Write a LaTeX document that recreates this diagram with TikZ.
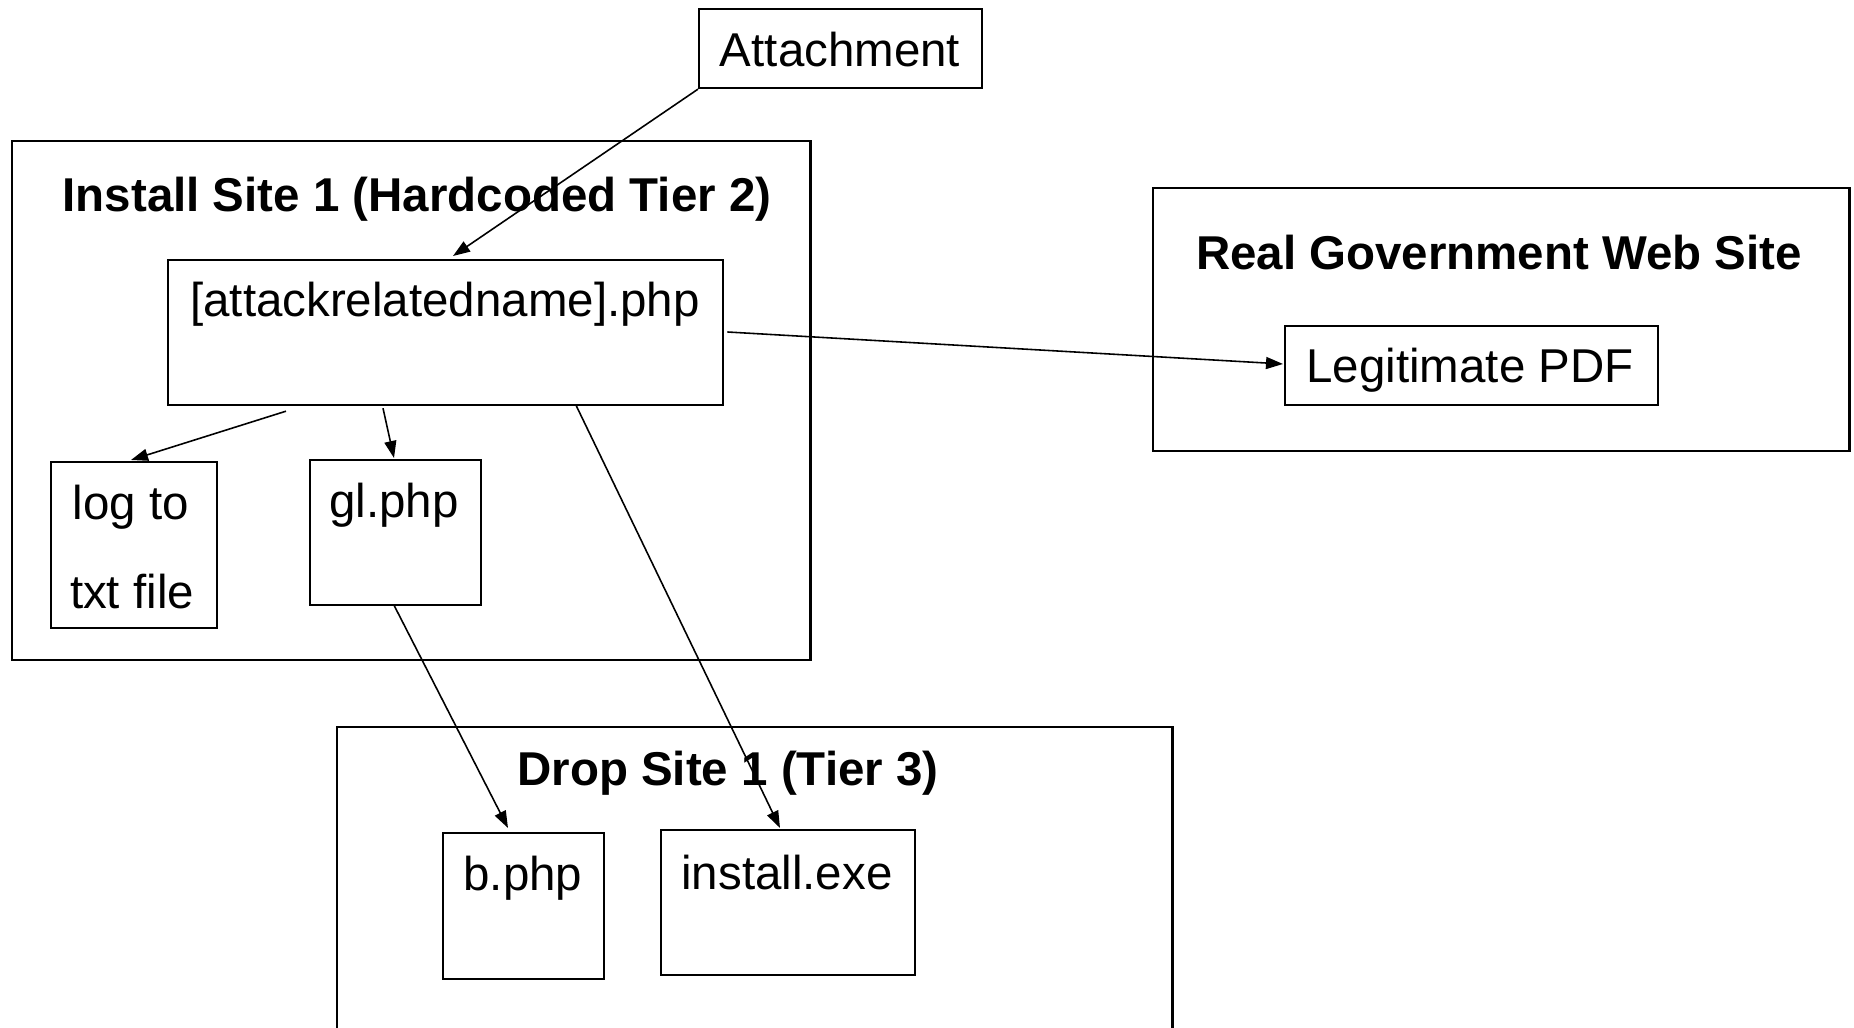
\documentclass[tikz,border=0pt]{standalone}
\usepackage{fontspec}
\setmainfont{Liberation Sans}
\usetikzlibrary{arrows.meta,calc}
\begin{document}
\begin{tikzpicture}[x=0.01cm,y=-0.01cm,
  box/.style={draw=black,line width=0.6pt,rectangle,inner sep=0pt,anchor=north west},
  txt/.style={inner sep=0pt,font=\fontsize{13.5}{16}\selectfont},
  ttl/.style={inner sep=0pt,font=\fontsize{13.5}{16}\selectfont\bfseries},
  arr/.style={draw=black,line width=0.45pt,-{Triangle[length=0.17cm,width=0.12cm]}}]
\useasboundingbox (0,0) rectangle (1854,1028);
\clip (0,0) rectangle (1854,1028);
% containers
\node[box,minimum width=7.98cm,minimum height=5.19cm] (inst1) at (11,140) {};
\node[box,minimum width=6.96cm,minimum height=2.63cm] (gov) at (1152,187) {};
\node[box,minimum width=8.35cm,minimum height=3.30cm] (drop) at (336,726) {};
% inner boxes
\node[box,minimum width=2.83cm,minimum height=0.79cm] (att) at (698,8) {};
\node[box,minimum width=5.55cm,minimum height=1.45cm] (attack) at (167,259) {};
\node[box,minimum width=1.66cm,minimum height=1.66cm] (logb) at (50,461) {};
\node[box,minimum width=1.71cm,minimum height=1.45cm] (gl) at (309,459) {};
\node[box,minimum width=3.73cm,minimum height=0.79cm] (pdf) at (1284,325) {};
\node[box,minimum width=1.61cm,minimum height=1.46cm] (bphp) at (442,832) {};
\node[box,minimum width=2.54cm,minimum height=1.45cm] (iexe) at (660,829) {};
% texts
\node[txt] (tatt) at (840,50) {Attachment};
\node[ttl] (tinst) at (417,199) {Install Site 1 (Hardcoded Tier 2)};
\node[txt] (tattack) at (445,304) {[attackrelatedname].php};
\node[txt] (tlog1) at (131,507) {log to};
\node[txt] (tlog2) at (132,592) {txt file};
\node[txt] (tgl) at (394,505) {gl.php};
\node[ttl] (tgov) at (1499,253) {Real Government Web Site};
\node[txt] (tpdf) at (1470,370) {Legitimate PDF};
\node[ttl] (tdrop) at (728,773) {Drop Site 1 (Tier 3)};
\node[txt] (tb) at (523,878) {b.php};
\node[txt] (tie) at (787,873) {install.exe};
% connectors
\draw[arr] (att.south west) -- ($(attack.north west)+(286,-3)$);
\draw[arr] ($(attack.south west)+(119,5)$) -- ($(logb.north west)+(81,-1)$);
\draw[arr] ($(attack.south west)+(216,2)$) -- ($(gl.north west)+(85,-1)$);
\draw[arr] ($(attack.south west)+(409,-1)$) -- ($(iexe.north west)+(120,-1)$);
\draw[arr] ($(gl.south west)+(85,-1)$) -- ($(bphp.north west)+(66,-4)$);
\draw[arr] ($(attack.north east)+(3,73)$) -- ($(pdf.north west)+(-1,39)$);
\end{tikzpicture}
\end{document}
